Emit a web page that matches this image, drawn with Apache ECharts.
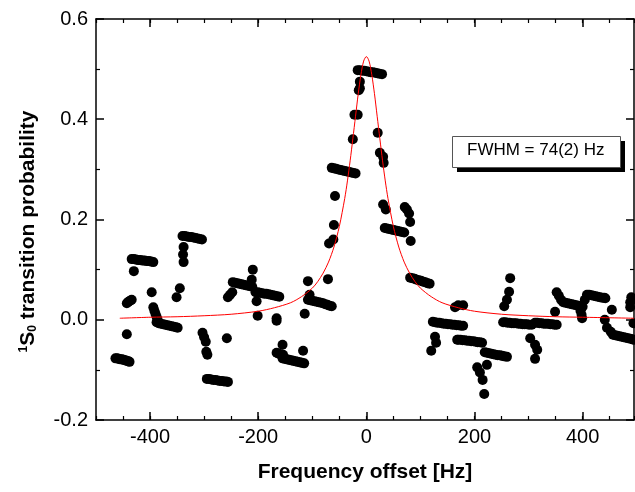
<!DOCTYPE html>
<html>
<head>
<meta charset="utf-8">
<title>1S0 transition probability</title>
<script src="https://cdn.jsdelivr.net/npm/echarts@6/dist/echarts.min.js"></script>
<style>
  html, body { margin: 0; padding: 0; background: #fff; }
  #chart { width: 635px; height: 492px; }
</style>
</head>
<body>
<div id="chart"></div>
<script>
// measured points (Hz, probability), grouped by the streaks seen in the plot
const freqHz = [
  -464, -461, -458, -455, -452, -449, -446, -443, -440, -438,
  -443,
  -443, -440, -437, -434,
  -430,
  -434, -430, -426, -422, -418, -414, -410, -406, -402, -398, -394,
  -397,
  -394, -392, -390, -388, -386,
  -388, -384, -380, -376, -372, -368, -364, -360, -356, -352, -349,
  -340, -336, -332, -328, -324, -320, -316, -312, -308, -304,
  -338, -339, -338,
  -345, -351,
  -303, -300, -297,
  -296, -294,
  -258,
  -295, -291, -287, -283, -279, -275, -271, -267, -263, -259, -256,
  -256, -252, -248,
  -247, -243, -239, -235, -231, -227, -223, -219, -215, -211,
  -210, -212,
  -205, -201, -197, -193, -189, -185, -181, -177, -173, -169, -165, -161,
  -203, -201,
  -166, -166,
  -155, -166, -162, -158, -154,
  -155, -151, -147, -143, -139, -135, -131, -127, -123, -119, -115,
  -117,
  -114,
  -108, -105,
  -108, -104, -100, -96, -92, -88, -84, -80, -76, -72, -68, -64,
  -71,
  -69, -61,
  -60, -58,
  -64, -60, -56, -52, -48, -44, -40, -36, -32, -28, -24, -20,
  -25, -22, -16,
  -12, -12, -14,
  -16, -12, -8, -4, 0, 4, 8, 12, 16, 20, 24, 29,
  21, 25, 31, 32,
  31, 36,
  34, 38, 42, 46, 50, 54, 58, 62, 66, 70,
  71, 75, 79, 81, 82,
  81, 85, 89, 93, 97, 101, 105, 109, 113, 117,
  123, 127, 131, 135, 139, 143, 147, 151, 155, 159, 163, 167, 171, 175, 179,
  127, 129, 120,
  168,
  164, 170, 179,
  170, 174, 178, 182, 186, 190, 194, 198, 202, 206, 210, 214,
  219, 223, 227, 231, 235, 239, 243, 247, 251, 255, 260,
  205, 210, 223, 215, 218,
  255, 260, 264, 266,
  253, 257, 261, 265, 269, 273, 277, 281, 285, 289, 293, 297, 301, 306,
  303, 312, 316, 312,
  312, 316, 320, 324, 328, 332, 336, 340, 344, 348, 352,
  349, 352, 356, 360,
  364, 368, 372, 376, 380, 384, 388, 392, 396, 400,
  396, 398, 399, 404,
  408, 412, 416, 420, 424, 428, 432, 436, 440, 442,
  454, 441, 445, 452,
  456, 460, 464, 468, 472, 476, 480, 484, 488, 492, 494,
  494, 488, 488, 490
];
const probability = [
  -0.077, -0.077, -0.078, -0.079, -0.079, -0.080, -0.081, -0.082, -0.083, -0.084,
  -0.029,
  0.033, 0.036, 0.038, 0.040,
  0.097,
  0.121, 0.121, 0.120, 0.119, 0.119, 0.118, 0.118, 0.117, 0.117, 0.116, 0.115,
  0.055,
  0.025, 0.018, 0.012, 0.006, 0.000,
  -0.005, -0.007, -0.008, -0.009, -0.010, -0.011, -0.012, -0.013, -0.014, -0.015, -0.016,
  0.167, 0.167, 0.166, 0.165, 0.165, 0.164, 0.163, 0.162, 0.161, 0.160,
  0.145, 0.130, 0.115,
  0.063, 0.045,
  -0.026, -0.035, -0.044,
  -0.064, -0.070,
  -0.037,
  -0.118, -0.118, -0.119, -0.120, -0.120, -0.121, -0.122, -0.122, -0.123, -0.123, -0.124,
  0.045, 0.050, 0.055,
  0.075, 0.074, 0.073, 0.072, 0.071, 0.070, 0.069, 0.068, 0.067, 0.066,
  0.100, 0.080,
  0.055, 0.055, 0.054, 0.053, 0.052, 0.052, 0.051, 0.050, 0.049, 0.048, 0.047, 0.046,
  0.037, 0.008,
  0.003, -0.002,
  -0.050, -0.066, -0.068, -0.069, -0.070,
  -0.077, -0.078, -0.079, -0.080, -0.081, -0.082, -0.083, -0.084, -0.085, -0.086, -0.087,
  -0.062,
  0.012,
  0.077, 0.050,
  0.040, 0.039, 0.038, 0.037, 0.036, 0.035, 0.034, 0.033, 0.031, 0.030, 0.028, 0.027,
  0.081,
  0.152, 0.160,
  0.189, 0.247,
  0.303, 0.302, 0.301, 0.300, 0.299, 0.298, 0.297, 0.296, 0.295, 0.294, 0.293, 0.292,
  0.360, 0.409, 0.409,
  0.475, 0.462, 0.458,
  0.498, 0.498, 0.497, 0.497, 0.496, 0.495, 0.494, 0.494, 0.493, 0.492, 0.491, 0.490,
  0.373, 0.333, 0.325, 0.313,
  0.230, 0.220,
  0.183, 0.182, 0.181, 0.180, 0.179, 0.178, 0.177, 0.176, 0.175, 0.174,
  0.225, 0.220, 0.212, 0.195, 0.157,
  0.084, 0.083, 0.082, 0.080, 0.079, 0.078, 0.076, 0.075, 0.073, 0.072,
  -0.004, -0.005, -0.006, -0.006, -0.007, -0.008, -0.008, -0.009, -0.009, -0.010, -0.010, -0.011, -0.011, -0.012, -0.012,
  -0.034, -0.046, -0.062,
  -0.040,
  0.025, 0.029, 0.029,
  -0.040, -0.040, -0.041, -0.041, -0.042, -0.042, -0.043, -0.043, -0.044, -0.045, -0.045, -0.046,
  -0.065, -0.066, -0.067, -0.068, -0.069, -0.070, -0.071, -0.071, -0.072, -0.073, -0.074,
  -0.095, -0.105, -0.090, -0.120, -0.148,
  0.027, 0.040, 0.056, 0.083,
  -0.005, -0.005, -0.006, -0.006, -0.007, -0.007, -0.007, -0.008, -0.008, -0.009, -0.009, -0.009, -0.010, -0.010,
  -0.037, -0.050, -0.060, -0.078,
  -0.006, -0.006, -0.007, -0.007, -0.008, -0.008, -0.008, -0.009, -0.009, -0.010, -0.010,
  0.016, 0.055, 0.048, 0.040,
  0.035, 0.034, 0.033, 0.032, 0.031, 0.030, 0.029, 0.028, 0.027, 0.026,
  0.018, 0.010, 0.003, 0.040,
  0.050, 0.050, 0.049, 0.048, 0.047, 0.046, 0.045, 0.044, 0.044, 0.043,
  0.020, 0.000, -0.016, -0.024,
  -0.030, -0.031, -0.032, -0.033, -0.034, -0.035, -0.036, -0.037, -0.038, -0.039, -0.040,
  -0.007, 0.025, 0.035, 0.045
];

// red fit curve
const fitFreqHz = [-456, -400, -350, -300, -250, -200, -170, -140, -120, -100, -90, -80, -70, -60, -50, -40, -35, -30, -25, -20, -15, -10, -5, 0,
  5, 10, 15, 20, 25, 30, 35, 40, 50, 60, 70, 80, 90, 100, 120, 140, 170, 200, 250, 300, 350, 400, 495];
const fitProb = [0.003, 0.005, 0.006, 0.008, 0.011, 0.017, 0.024, 0.034, 0.046, 0.063, 0.076, 0.093, 0.115, 0.145, 0.186, 0.242, 0.277, 0.317, 0.361, 0.406, 0.451, 0.489, 0.516, 0.525,
  0.516, 0.489, 0.451, 0.406, 0.361, 0.317, 0.277, 0.242, 0.186, 0.145, 0.115, 0.093, 0.076, 0.063, 0.046, 0.034, 0.024, 0.017, 0.011, 0.008, 0.006, 0.005, 0.003];

const xMajorTicks = [-400, -200, 0, 200, 400];
const fitLabel = 'FWHM = 74(2) Hz';

const font = 'Liberation Sans, Arial, Helvetica, sans-serif';

const chart = echarts.init(document.getElementById('chart'));

const points = freqHz.map((f, i) => [f, probability[i]]);
const fit = fitFreqHz.map((f, i) => [f, fitProb[i]]);

const axisLine = { onZero: false, lineStyle: { color: '#000', width: 1.5 } };
const noLine = { show: false, onZero: false };

chart.setOption({
  animation: false,
  backgroundColor: '#fff',
  grid: { left: 96, right: 1, top: 19, bottom: 72, containLabel: false, outerBoundsMode: 'none' },
  xAxis: [
    {
      type: 'value', position: 'bottom', min: -500, max: 495,
      axisLine: axisLine,
      axisTick: { inside: true, length: 8, customValues: xMajorTicks, lineStyle: { color: '#000', width: 1.5 } },
      axisLabel: { customValues: xMajorTicks, color: '#000', fontSize: 20, fontFamily: font, margin: 7 },
      splitLine: { show: false },
      name: 'Frequency offset [Hz]', nameLocation: 'middle', nameGap: 42,
      nameTextStyle: { color: '#000', fontSize: 21, fontWeight: 'bold', fontFamily: font },
    },
    {
      type: 'value', position: 'bottom', min: -500, max: 495, interval: 50,
      axisLine: noLine,
      axisTick: { inside: true, length: 4, lineStyle: { color: '#000', width: 1.2 } },
      axisLabel: { show: false },
      splitLine: { show: false },
    },
    {
      type: 'value', position: 'top', min: -500, max: 495,
      axisLine: axisLine,
      axisTick: { inside: true, length: 8, customValues: xMajorTicks, lineStyle: { color: '#000', width: 1.5 } },
      axisLabel: { show: false },
      splitLine: { show: false },
    },
    {
      type: 'value', position: 'top', min: -500, max: 495, interval: 50,
      axisLine: noLine,
      axisTick: { inside: true, length: 4, lineStyle: { color: '#000', width: 1.2 } },
      axisLabel: { show: false },
      splitLine: { show: false },
    },
  ],
  yAxis: [
    {
      type: 'value', position: 'left', min: -0.2, max: 0.6, interval: 0.2,
      axisLine: axisLine,
      axisTick: { inside: true, length: 8, lineStyle: { color: '#000', width: 1.5 } },
      minorTick: { show: true, splitNumber: 2, length: 4, lineStyle: { color: '#000', width: 1.2 } },
      axisLabel: { color: '#000', fontSize: 20, fontFamily: font, margin: 8, formatter: v => v.toFixed(1) },
      splitLine: { show: false },
      name: '{sup|1}{b|S}{sub|0}{b| transition probability}',
      nameLocation: 'middle', nameRotate: 90, nameGap: 57,
      nameTextStyle: {
        color: '#000', fontFamily: font, padding: [0, 24, 0, 0],
        rich: {
          b: { fontSize: 21, fontWeight: 'bold', fontFamily: font, color: '#000' },
          sup: { fontSize: 12, fontWeight: 'bold', fontFamily: font, color: '#000', verticalAlign: 'top', padding: [0, 0, 6, 0] },
          sub: { fontSize: 12, fontWeight: 'bold', fontFamily: font, color: '#000', verticalAlign: 'bottom', padding: [6, 0, 0, 0] },
        },
      },
    },
    {
      type: 'value', position: 'right', min: -0.2, max: 0.6, interval: 0.2,
      axisLine: axisLine,
      axisTick: { inside: true, length: 8, lineStyle: { color: '#000', width: 1.5 } },
      minorTick: { show: true, splitNumber: 2, length: 4, lineStyle: { color: '#000', width: 1.2 } },
      axisLabel: { show: false },
      splitLine: { show: false },
    },
  ],
  graphic: [
    { type: 'rect', left: 457, top: 141, shape: { width: 168, height: 31 }, style: { fill: '#000' }, z: 100 },
    { type: 'rect', left: 452, top: 136, shape: { width: 168, height: 31 }, style: { fill: '#fff', stroke: '#555', lineWidth: 1 }, z: 101 },
    {
      type: 'text', left: 467, top: 142, z: 102,
      style: { text: fitLabel, fill: '#000', font: '17px ' + font },
    },
  ],
  series: [
    {
      type: 'scatter', xAxisIndex: 0, yAxisIndex: 0,
      data: points, symbol: 'circle', symbolSize: 10,
      itemStyle: { color: '#000', opacity: 1 }, z: 2,
    },
    {
      type: 'line', xAxisIndex: 0, yAxisIndex: 0,
      data: fit, smooth: 0.3, showSymbol: false,
      lineStyle: { color: '#ff0000', width: 1 }, z: 3,
    },
  ],
});
</script>
</body>
</html>
